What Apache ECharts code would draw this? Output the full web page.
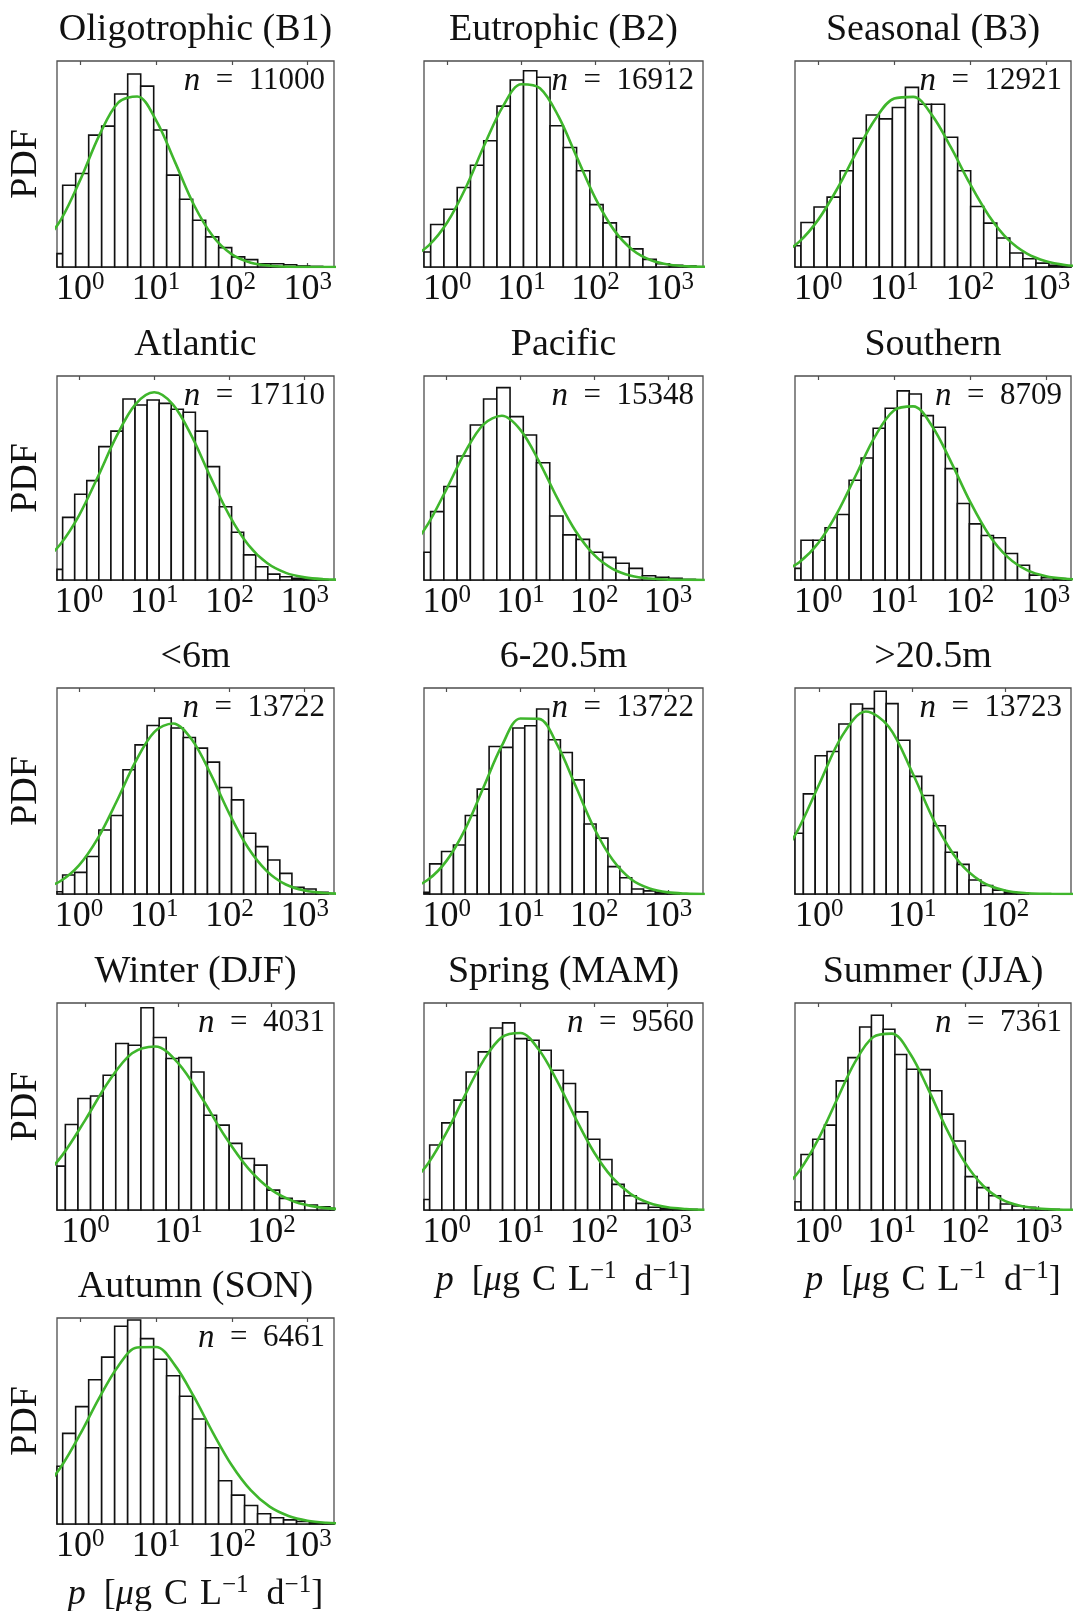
<!DOCTYPE html>
<html><head><meta charset="utf-8">
<script src="https://cdn.jsdelivr.net/npm/echarts@6/dist/echarts.min.js"></script>
<style>html,body{margin:0;padding:0;background:#fff}#c{width:1075px;height:1611px}</style>
</head><body><div id="c"></div>
<script>
// ---------- data (x in log10 units, heights in % of panel height) ----------
const titles = ['Oligotrophic (B1)','Eutrophic (B2)','Seasonal (B3)','Atlantic','Pacific','Southern','<6m','6-20.5m','>20.5m','Winter (DJF)','Spring (MAM)','Summer (JJA)','Autumn (SON)'];
const counts = [11000,16912,12921,17110,15348,8709,13722,13722,13723,4031,9560,7361,6461];
const logMin = [-0.308,-0.315,-0.307,-0.292,-0.307,-0.307,-0.292,-0.307,-0.262,-0.308,-0.308,-0.318,-0.308];
const logMax = [3.348,3.45,3.33,3.39,3.475,3.33,3.39,3.475,2.711,2.673,3.48,3.445,3.35];
const tickExp = [[0,1,2,3],[0,1,2,3],[0,1,2,3],[0,1,2,3],[0,1,2,3],[0,1,2,3],[0,1,2,3],[0,1,2,3],[0,1,2],[0,1,2],[0,1,2,3],[0,1,2,3],[0,1,2,3]];
// left edge of the first full bin, and bin width (log10 units)
const binStart = [-0.233,-0.225,-0.228,-0.217,-0.217,-0.228,-0.217,-0.230,-0.172,-0.218,-0.231,-0.236,-0.233];
const binWidth = [0.1716,0.179,0.172,0.1604,0.1794,0.1585,0.1604,0.1611,0.1275,0.1356,0.165,0.16,0.1716];
// bar heights; first entry is the bin cut by the left axis edge
const h1 = [6.5,39.7,45.4,64.0,68.4,84.0,93.7,87.8,66.5,44.6,32.9,22.7,14.6,9.4,4.9,3.6,1.6,1.6,1.1,0.5,0.3];
const h2 = [7.3,20.6,28.0,38.6,49.4,61.3,78.1,90.8,95.3,92.1,68.6,58.0,46.7,30.3,21.4,14.6,8.8,3.7,1.6,0.8,0.5];
const h3 = [10.3,21.6,29.1,33.9,46.7,62.5,73.8,71.9,77.4,87.2,79.0,79.0,63.0,46.7,29.4,21.3,14.1,6.8,4.0,1.9,0.8,0.5];
const h4 = [5.2,30.7,42.0,48.7,65.4,73.0,88.7,85.8,88.2,86.6,83.7,82.2,73.0,55.6,35.9,23.4,12.3,6.5,2.9,1.6,0.8,0.5,0.2];
const h5 = [13.6,33.5,45.8,60.8,76.0,88.7,94.3,80.1,71.1,57.5,31.4,22.1,19.9,13.6,11.1,8.2,5.7,2.1,1.3,0.8,0.3];
const h6 = [5.7,19.5,19.5,25.6,32.1,48.9,59.8,74.4,84.2,92.7,91.2,80.6,74.9,54.6,37.5,27.5,21.8,20.7,13.0,7.2,2.4,1.1,0.7,0.3];
const h7 = [1.1,9.2,10.5,18.2,31.1,38.1,60.3,72.4,81.8,85.4,80.6,76.0,70.8,64.0,51.7,45.7,29.5,23.0,16.5,10.0,3.2,2.4,0.8];
const h8 = [0.8,14.6,20.6,23.8,38.1,50.9,71.6,71.2,80.6,81.7,89.8,74.9,68.7,55.4,34.0,27.1,13.3,7.9,2.4,1.5,0.8,0.3];
const h9 = [29.5,48.6,67.1,69.2,82.5,92.2,90.0,98.4,92.4,74.6,57.1,47.8,33.1,20.3,14.4,6.8,4.1,1.9,0.8,0.3];
const h10 = [21.2,41.3,53.9,55.1,65.1,80.4,79.6,97.7,83.3,73.2,73.6,66.7,45.8,41.0,32.2,24.9,21.7,9.6,5.6,4.3,2.4,1.6,0.8];
const h11 = [5.1,31.4,42.1,53.1,66.7,76.4,87.9,90.4,82.8,82.0,77.2,67.5,61.1,47.4,34.2,24.4,12.4,6.9,3.2,1.3,0.8,0.5,0.3];
const h12 = [4.0,26.8,34.2,41.0,62.4,73.6,88.4,94.1,87.3,75.1,68.0,67.8,57.6,46.3,33.3,16.1,10.8,6.9,2.9,1.9,1.3,0.5,0.3];
const h13 = [28,44,57,70,81,96,99,90,80,72,62,51,37,21,14,9,5,3,2,1.2,0.6,0.3];
// green fitted curve, read at fixed x positions
const curveX = [-0.5,-0.25,0,0.25,0.5,0.75,1,1.25,1.5,1.75,2,2.25,2.5,2.75,3,3.25,3.5];
const f1 = [10.7,23.4,42.4,63.9,79.8,82.8,71.2,50.9,30.1,14.9,6.1,2.1,0.6,0.1,0,0,0];
const f2 = [4.4,10.5,21.7,38.6,59.2,78.0,88.7,86.8,73.1,53.1,33.2,17.9,8.3,3.3,1.1,0.3,0.1];
const f3 = [5.8,12.3,23.0,38.0,55.5,71.7,81.8,82.6,73.6,57.9,40.3,24.8,13.4,6.5,2.8,1.0,0.3];
const f4 = [8.3,17.4,31.6,50.5,70.5,86.1,92.0,86.0,70.4,50.3,31.6,17.3,8.3,3.5,1.3,0.4,0.1];
const f5 = [14.7,27.6,44.7,62.7,76.3,80.5,73.6,58.3,40.1,23.9,12.3,5.5,2.1,0.7,0.2,0.1,0];
const f6 = [3.6,8.7,18.1,32.9,51.7,70.5,83.2,85.1,75.4,57.8,38.4,22.1,11.1,4.8,1.8,0.6,0.2];
const f7 = [2.4,6.2,13.9,27.0,44.9,64.1,78.6,82.8,75.0,58.3,38.9,22.3,11.0,4.6,1.7,0.5,0.1];
const f8 = [2.6,7.0,16.2,31.4,51.8,72.1,85.2,85.0,72.4,52.3,31.9,16.6,7.2,2.7,0.8,0.2,0];
const f9 = [13.0,29.4,53.4,77.1,88.6,81.1,59.1,34.3,15.9,5.9,1.7,0.4,0.1,0,0,0,0];
const f10 = [13.7,26.5,43.8,62.2,75.7,79.0,70.7,54.2,35.6,20.1,9.7,4.0,1.4,0.4,0.1,0,0];
const f11 = [12.1,22.6,37.6,55.5,72.3,83.5,85.5,77.5,62.3,44.3,27.9,15.6,7.7,3.4,1.3,0.5,0.1];
const f12 = [9.4,19.3,34.2,53.0,71.4,83.6,85.2,75.6,58.3,39.1,22.9,11.6,5.1,2.0,0.7,0.2,0.1];
const f13 = [16.0,28.0,43.7,61.2,76.6,85.7,85.9,77.0,61.8,44.4,28.5,16.4,8.4,3.9,1.6,0.6,0.2];
const heights = [h1,h2,h3,h4,h5,h6,h7,h8,h9,h10,h11,h12,h13];
const fits = [f1,f2,f3,f4,f5,f6,f7,f8,f9,f10,f11,f12,f13];
const xTitlePanels = [10,11,12];

// ---------- layout ----------
const colLeft = [57,424,795], colWidth = [277,279,276];
const rowTop = [61,376,688,1003,1318], rowH = [206,204,206,207,206];
const FONT = '"Liberation Serif","Times New Roman",serif';
const FRAME = '#4d4d4d';

const chart = echarts.init(document.getElementById('c'), null, {renderer:'canvas', width:1075, height:1611});
const grids=[], xAxes=[], topAxes=[], yAxes=[], series=[], graphics=[];
const N = titles.length;
for (let i=0;i<N;i++){
  const row = Math.floor(i/3), col = i%3;
  const L = colLeft[col], W = colWidth[col], T = rowTop[row], H = rowH[row];
  grids.push({left:L, top:T, width:W, height:H, show:true, borderColor:FRAME, borderWidth:1.3,
    backgroundColor:'#fff', containLabel:false, outerBoundsMode:'none'});
  xAxes.push({type:'value', gridIndex:i, min:logMin[i], max:logMax[i], position:'bottom',
    axisLine:{show:false}, splitLine:{show:false},
    axisTick:{show:true, inside:true, length:4, customValues:tickExp[i], lineStyle:{color:FRAME, width:1.2}},
    axisLabel:{show:true, customValues:tickExp[i], margin:3, hideOverlap:false,
      fontFamily:FONT, fontSize:36, color:'#111',
      formatter: v => '{b|10}{s|' + v + '}',
      rich:{ b:{fontFamily:FONT, fontSize:36, lineHeight:38, verticalAlign:'bottom', color:'#111'},
             s:{fontFamily:FONT, fontSize:25, lineHeight:25, verticalAlign:'top', color:'#111'} } }});
  topAxes.push({type:'value', gridIndex:i, min:logMin[i], max:logMax[i], position:'top',
    axisLine:{show:false}, splitLine:{show:false}, axisLabel:{show:false},
    axisTick:{show:true, inside:true, length:4, customValues:tickExp[i], lineStyle:{color:FRAME, width:1.2}}});
  yAxes.push({type:'value', gridIndex:i, min:0, max:100, show:false});

  const bars = heights[i].map((h,k) => {
    const x0 = binStart[i] + (k-1)*binWidth[i];
    return [x0, x0 + binWidth[i], h];
  });
  series.push({type:'custom', xAxisIndex:i, yAxisIndex:i, coordinateSystem:'cartesian2d',
    encode:{x:[0,1], y:2}, data:bars, z:3, silent:true,
    renderItem: function(params, api){
      const p0 = api.coord([api.value(0), 0]);
      const p1 = api.coord([api.value(1), api.value(2)]);
      const cs = params.coordSys;
      const r = echarts.graphic.clipRectByRect(
        {x:p0[0], y:p1[1], width:p1[0]-p0[0], height:p0[1]-p1[1]},
        {x:cs.x, y:cs.y, width:cs.width, height:cs.height});
      if (!r) return;
      return {type:'rect', shape:r, style:{fill:'#fff', stroke:'#111', lineWidth:1.6}};
    }});
  series.push({type:'line', xAxisIndex:i, yAxisIndex:i, data: curveX.map((x,k)=>[x, fits[i][k]]),
    smooth:0.34, showSymbol:false, clip:true, z:5, silent:true,
    lineStyle:{color:'#3fb62c', width:2.6}});

  // title
  graphics.push({type:'text', x:L+W/2, y:T-31, silent:true,
    style:{text:titles[i], font:'38px '+FONT, fill:'#111', textAlign:'center', textVerticalAlign:'middle'}});
  // n = ...
  graphics.push({type:'text', x:L+W-9, y:T+20, silent:true,
    style:{text:'{i|n}{r|\u2002=\u2002' + counts[i] + '}', textAlign:'right', textVerticalAlign:'middle',
      rich:{i:{fontFamily:FONT, fontStyle:'italic', fontSize:33, fill:'#111'}, r:{fontFamily:FONT, fontSize:31, fill:'#111'}}}});
  if (col === 0) {
    graphics.push({type:'text', x:26, y:T+H/2, rotation:Math.PI/2, silent:true,
      style:{text:'PDF', font:'38px '+FONT, fill:'#111', textAlign:'center', textVerticalAlign:'middle'}});
  }
  if (xTitlePanels.indexOf(i) >= 0) {
    graphics.push({type:'text', x:L+W/2, y:T+H+69, silent:true,
      style:{text:'{i|p}{r|\u2002[}{i|\u03bc}{r|g\u2004C\u2004L}{s|\u22121}{r|\u2002d}{s|\u22121}{r|]}',
        textAlign:'center', textVerticalAlign:'middle',
        rich:{ i:{fontFamily:FONT, fontStyle:'italic', fontSize:36, lineHeight:40, verticalAlign:'bottom', fill:'#111'},
               r:{fontFamily:FONT, fontSize:36, lineHeight:40, verticalAlign:'bottom', fill:'#111'},
               s:{fontFamily:FONT, fontSize:25, lineHeight:25, verticalAlign:'top', fill:'#111'} }}});
  }
}

chart.setOption({
  animation:false,
  backgroundColor:'#fff',
  grid:grids,
  xAxis:xAxes.concat(topAxes),
  yAxis:yAxes,
  series:series,
  graphic:{elements:graphics}
});
</script></body></html>
